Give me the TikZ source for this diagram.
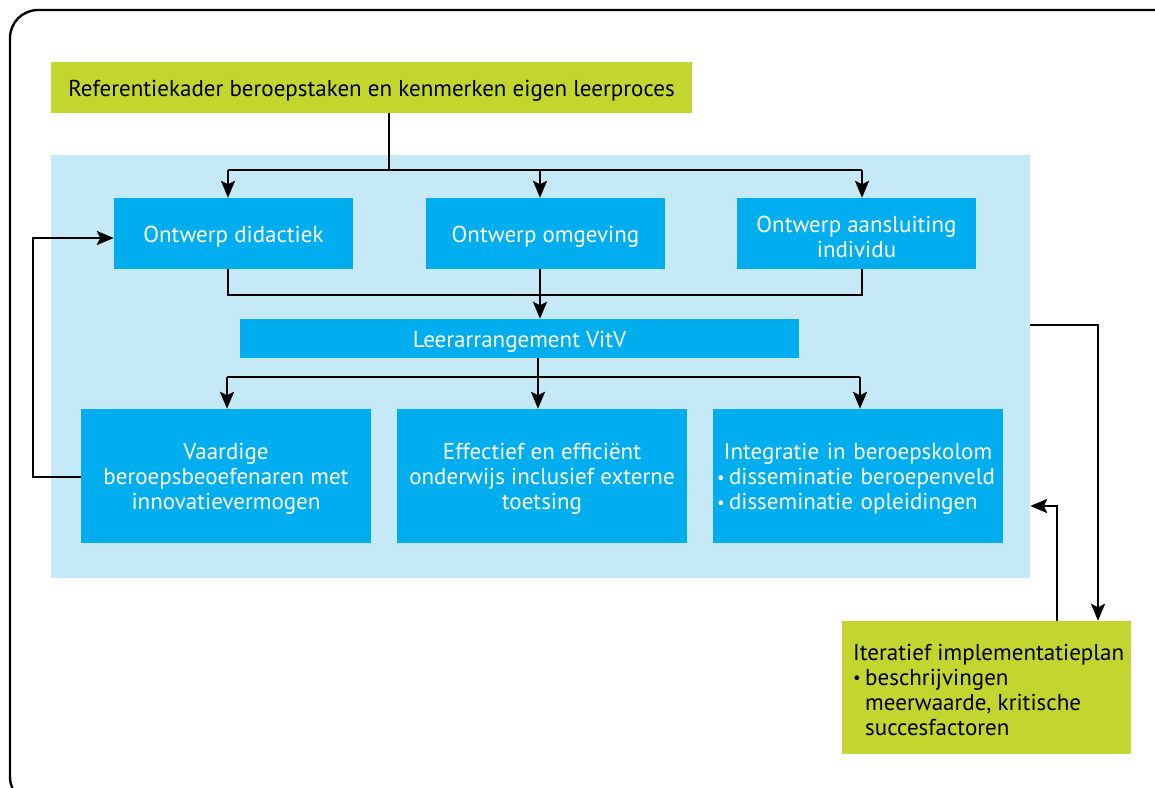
\documentclass[tikz,border=0pt]{standalone}
\usepackage{fontspec}
\setmainfont{PT Sans}
\usetikzlibrary{arrows.meta}
\definecolor{lime}{HTML}{C2D62F}
\definecolor{boxblue}{HTML}{00AEEF}
\definecolor{paleblue}{HTML}{C6E9F8}
\newcommand\bul{\makebox[12pt][l]{\raisebox{1.5pt}{\fontsize{17}{17}\selectfont •}}}
\begin{document}
\begin{tikzpicture}[x=1pt,y=-1pt,
  every node/.style={font=\fontsize{23}{25}\selectfont,inner sep=0pt},
  greenbox/.style={fill=lime},
  bluebox/.style={fill=boxblue},
  bgbox/.style={fill=paleblue},
  wtxt/.style={text=white,align=center,yshift=-3pt},
  btxt/.style={text=black,yshift=-3pt},
  conn/.style={line width=2.6pt,black},
  arr/.style={conn,-{Stealth[length=17pt,width=14pt,inset=3.5pt]}}]
\useasboundingbox (0,0) rectangle (1155,787);
\begin{scope}
  \clip (0,0) rectangle (1155,787);
  \draw[line width=2.4pt,rounded corners=28pt] (10,10) rectangle (1185,805);
\end{scope}
% boxes
\node[greenbox,minimum width=641,minimum height=51] (ref) at (371.5,87.5) {};
\node[btxt] (reft) at (ref.center) {Referentiekader beroepstaken en kenmerken eigen leerproces};
\node[bgbox,minimum width=979,minimum height=423] (bg) at (540.5,366.5) {};
\node[bluebox,minimum width=239,minimum height=71] (od) at (233.5,233.5) {};
\node[wtxt] (odt) at (od.center) {Ontwerp didactiek};
\node[bluebox,minimum width=239,minimum height=71] (om) at (545.5,233.5) {};
\node[wtxt] (omt) at (om.center) {Ontwerp omgeving};
\node[bluebox,minimum width=239,minimum height=71] (oa) at (856.5,233.5) {};
\node[wtxt] (oat) at (oa.center) {Ontwerp aansluiting\\individu};
\node[bluebox,minimum width=559,minimum height=39] (leer) at (519.5,338.5) {};
\node[wtxt] (leert) at (leer.center) {Leerarrangement VitV};
\node[bluebox,minimum width=290,minimum height=134] (v) at (226,476) {};
\node[wtxt] (vt) at (v.center) {Vaardige\\beroepsbeoefenaren met\\innovatievermogen};
\node[bluebox,minimum width=290,minimum height=134] (e) at (542,476) {};
\node[wtxt] (et) at (e.center) {Effectief en efficiënt\\onderwijs inclusief externe\\toetsing};
\node[bluebox,minimum width=290,minimum height=134] (i) at (858,476) {};
\node[wtxt,text width=282,align=left] (it) at (i.center) {\makebox[\linewidth]{Integratie in beroepskolom}\\\bul disseminatie beroepenveld\\\bul disseminatie opleidingen};
\node[greenbox,minimum width=289,minimum height=133] (impl) at (986.5,687.5) {};
\node[btxt,anchor=west,align=left] (implt) at (853,686.5) {Iteratief implementatieplan\\\bul beschrijvingen\\\hspace*{12pt}meerwaarde, kritische\\\hspace*{12pt}succesfactoren};
% connectors
\coordinate (s1) at (389,170);
\coordinate (a1) at (228,170);
\coordinate (a2) at (540,170);
\coordinate (a3) at (862,170);
\draw[conn] (ref.south -| s1) -- (s1);
\draw[conn] (a1) -- (a3);
\draw[arr] (a1) -- (a1 |- od.north);
\draw[arr] (a2) -- (a2 |- om.north);
\draw[arr] (a3) -- (a3 |- oa.north);
\coordinate (b1) at (228,295);
\coordinate (b2) at (540,295);
\coordinate (b3) at (862,295);
\draw[conn] (b1 |- od.south) -- (b1) -- (b3) -- (b3 |- oa.south);
\draw[arr] (b2 |- om.south) -- (b2 |- leer.north);
\coordinate (c1) at (227,377);
\coordinate (c2) at (538,377);
\coordinate (c3) at (860,377);
\draw[conn] (c2 |- leer.south) -- (c2);
\draw[conn] (c1) -- (c3);
\draw[arr] (c1) -- (c1 |- v.north);
\draw[arr] (c2) -- (c2 |- e.north);
\draw[arr] (c3) -- (c3 |- i.north);
\coordinate (d1) at (33,477);
\coordinate (d2) at (33,238);
\draw[arr] (v.west |- d1) -- (d1) -- (d2) -- (d2 -| od.west);
\coordinate (e1) at (1098,325);
\draw[arr] (bg.east |- e1) -- (e1) -- (e1 |- impl.north);
\coordinate (f1) at (1057,506);
\draw[arr] (f1 |- impl.north) -- (f1) -- (f1 -| bg.east);
\end{tikzpicture}
\end{document}
